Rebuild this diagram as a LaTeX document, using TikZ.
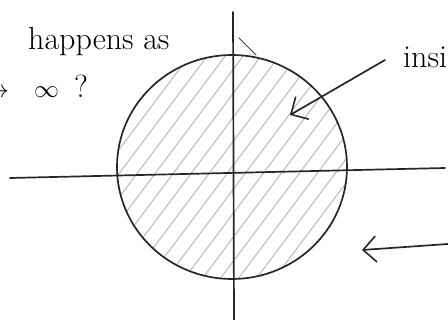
\documentclass[tikz,border=0pt]{standalone}
\usetikzlibrary{shapes.geometric,arrows.meta}
\begin{document}
\begin{tikzpicture}[x=1pt,y=-1pt,line cap=round,line join=round,
  pen/.style={line width=1.7pt,black!85},
  thinpen/.style={line width=0.9pt,black!75},
  hatch/.style={line width=0.8pt,gray!65},
  lbl/.style={font=\fontsize{26}{30}\selectfont,inner sep=0pt,anchor=base west},
  biglbl/.style={lbl,font=\fontsize{32}{36}\selectfont},
  barb/.style={-{Straight Barb[length=13pt,width=26pt,line width=1.6pt]}}]
\useasboundingbox (0,0) rectangle (448,320);
\clip (0,0) rectangle (448,320);
% hatching
\begin{scope}
  \clip (232,167) ellipse [x radius=115, y radius=112];
  \foreach \i in {-360,-342,...,360}
    \draw[hatch] ({232+\i-105},307) -- ({232+\i+105},27);
\end{scope}
% disk
\node[draw,pen,ellipse,minimum width=230pt,minimum height=224pt,inner sep=0pt] (disk) at (232,167) {};
% axes
\coordinate (xl) at (10,178);
\coordinate (xr) at (445,168);
\coordinate (yt) at (233,12);
\coordinate (yb) at (234,320);
\draw[pen] (xl) -- (xr);
\draw[pen] (yt) -- (yb);
% small marks
\coordinate (m1) at (239,38);
\coordinate (m2) at (256,55);
\draw[thinpen] (m1) -- (m2);
% texts
\node[biglbl] (t1) at (28,50) {happens as};
\node[lbl] (t0) at (-16,98) {$\to$};
\node[lbl] (t2) at (34,98) {$\infty$};
\node[biglbl] (t3) at (74,98) {?};
\node[biglbl] (t4) at (403,68) {inside};
% arrows
\coordinate (a1s) at (385,60);
\coordinate (a1e) at (290,115);
\draw[pen,barb] (a1s) -- (a1e);
\coordinate (a2s) at (448,244);
\coordinate (a2e) at (362,250);
\draw[pen,barb] (a2s) -- (a2e);
\end{tikzpicture}
\end{document}
